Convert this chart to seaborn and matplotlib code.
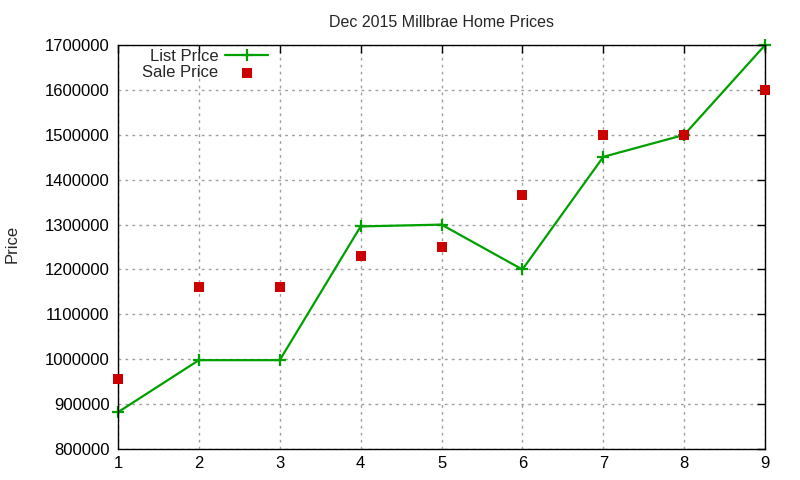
import seaborn as sns
import matplotlib.pyplot as plt
import pandas as pd

months = [1, 2, 3, 4, 5, 6, 7, 8, 9]
list_price = [882000, 998000, 998000, 1296000, 1300000, 1200000, 1451000, 1500000, 1700000]
sale_price = [955000, 1160000, 1160000, 1231000, 1251000, 1367000, 1500000, 1500000, 1600000]
y_ticks = [800000, 900000, 1000000, 1100000, 1200000, 1300000, 1400000, 1500000, 1600000, 1700000]


def main():
    sns.set_style("white")
    plt.rcParams['font.family'] = ['Liberation Sans', 'DejaVu Sans']

    df = pd.DataFrame({'x': months, 'list': list_price, 'sale': sale_price})

    fig = plt.figure(figsize=(8, 4.8), dpi=100)
    ax = fig.add_axes([0.1475, 0.0646, 0.8088, 0.8414])

    sns.lineplot(data=df, x='x', y='list', ax=ax, color='#00a000', linewidth=1.6,
                 marker='+', markersize=9, markeredgewidth=1.6,
                 markeredgecolor='#00a000', label='List Price', clip_on=False)
    sns.scatterplot(data=df, x='x', y='sale', ax=ax, color='#cc0000', marker='s',
                    s=45, linewidth=0, label='Sale Price', zorder=3, clip_on=False)

    ax.set_xlim(1, 9)
    ax.set_ylim(800000, 1700000)
    ax.set_xticks(months)
    ax.set_yticks(y_ticks)
    ax.ticklabel_format(style='plain', axis='y')
    ax.tick_params(direction='in', top=True, right=True, length=6, labelsize=12,
                   colors='black', width=1, pad=5)
    ax.tick_params(axis='y', pad=6)
    ax.grid(True, color='#a0a0a0', linestyle=(0, (2, 3)), linewidth=1)
    for s in ax.spines.values():
        s.set_color('black')
        s.set_linewidth(1)

    ax.set_xlabel('')
    ax.set_ylabel('Price', fontsize=12, va='center', ha='center')
    ax.yaxis.set_label_coords(-0.1638, 0.507)
    ax.set_title('Dec 2015 Millbrae Home Prices', fontsize=11.5, pad=13)

    leg = ax.legend(loc='upper left', frameon=False, markerfirst=False, fontsize=12,
                    handlelength=2.6, handletextpad=0.4, borderaxespad=0.2,
                    labelspacing=0.05, bbox_to_anchor=(0.022, 1.015))
    for t in leg.get_texts():
        t.set_ha('right')

    fig.savefig('out.png', dpi=100)


if __name__ == "__main__":
    main()
